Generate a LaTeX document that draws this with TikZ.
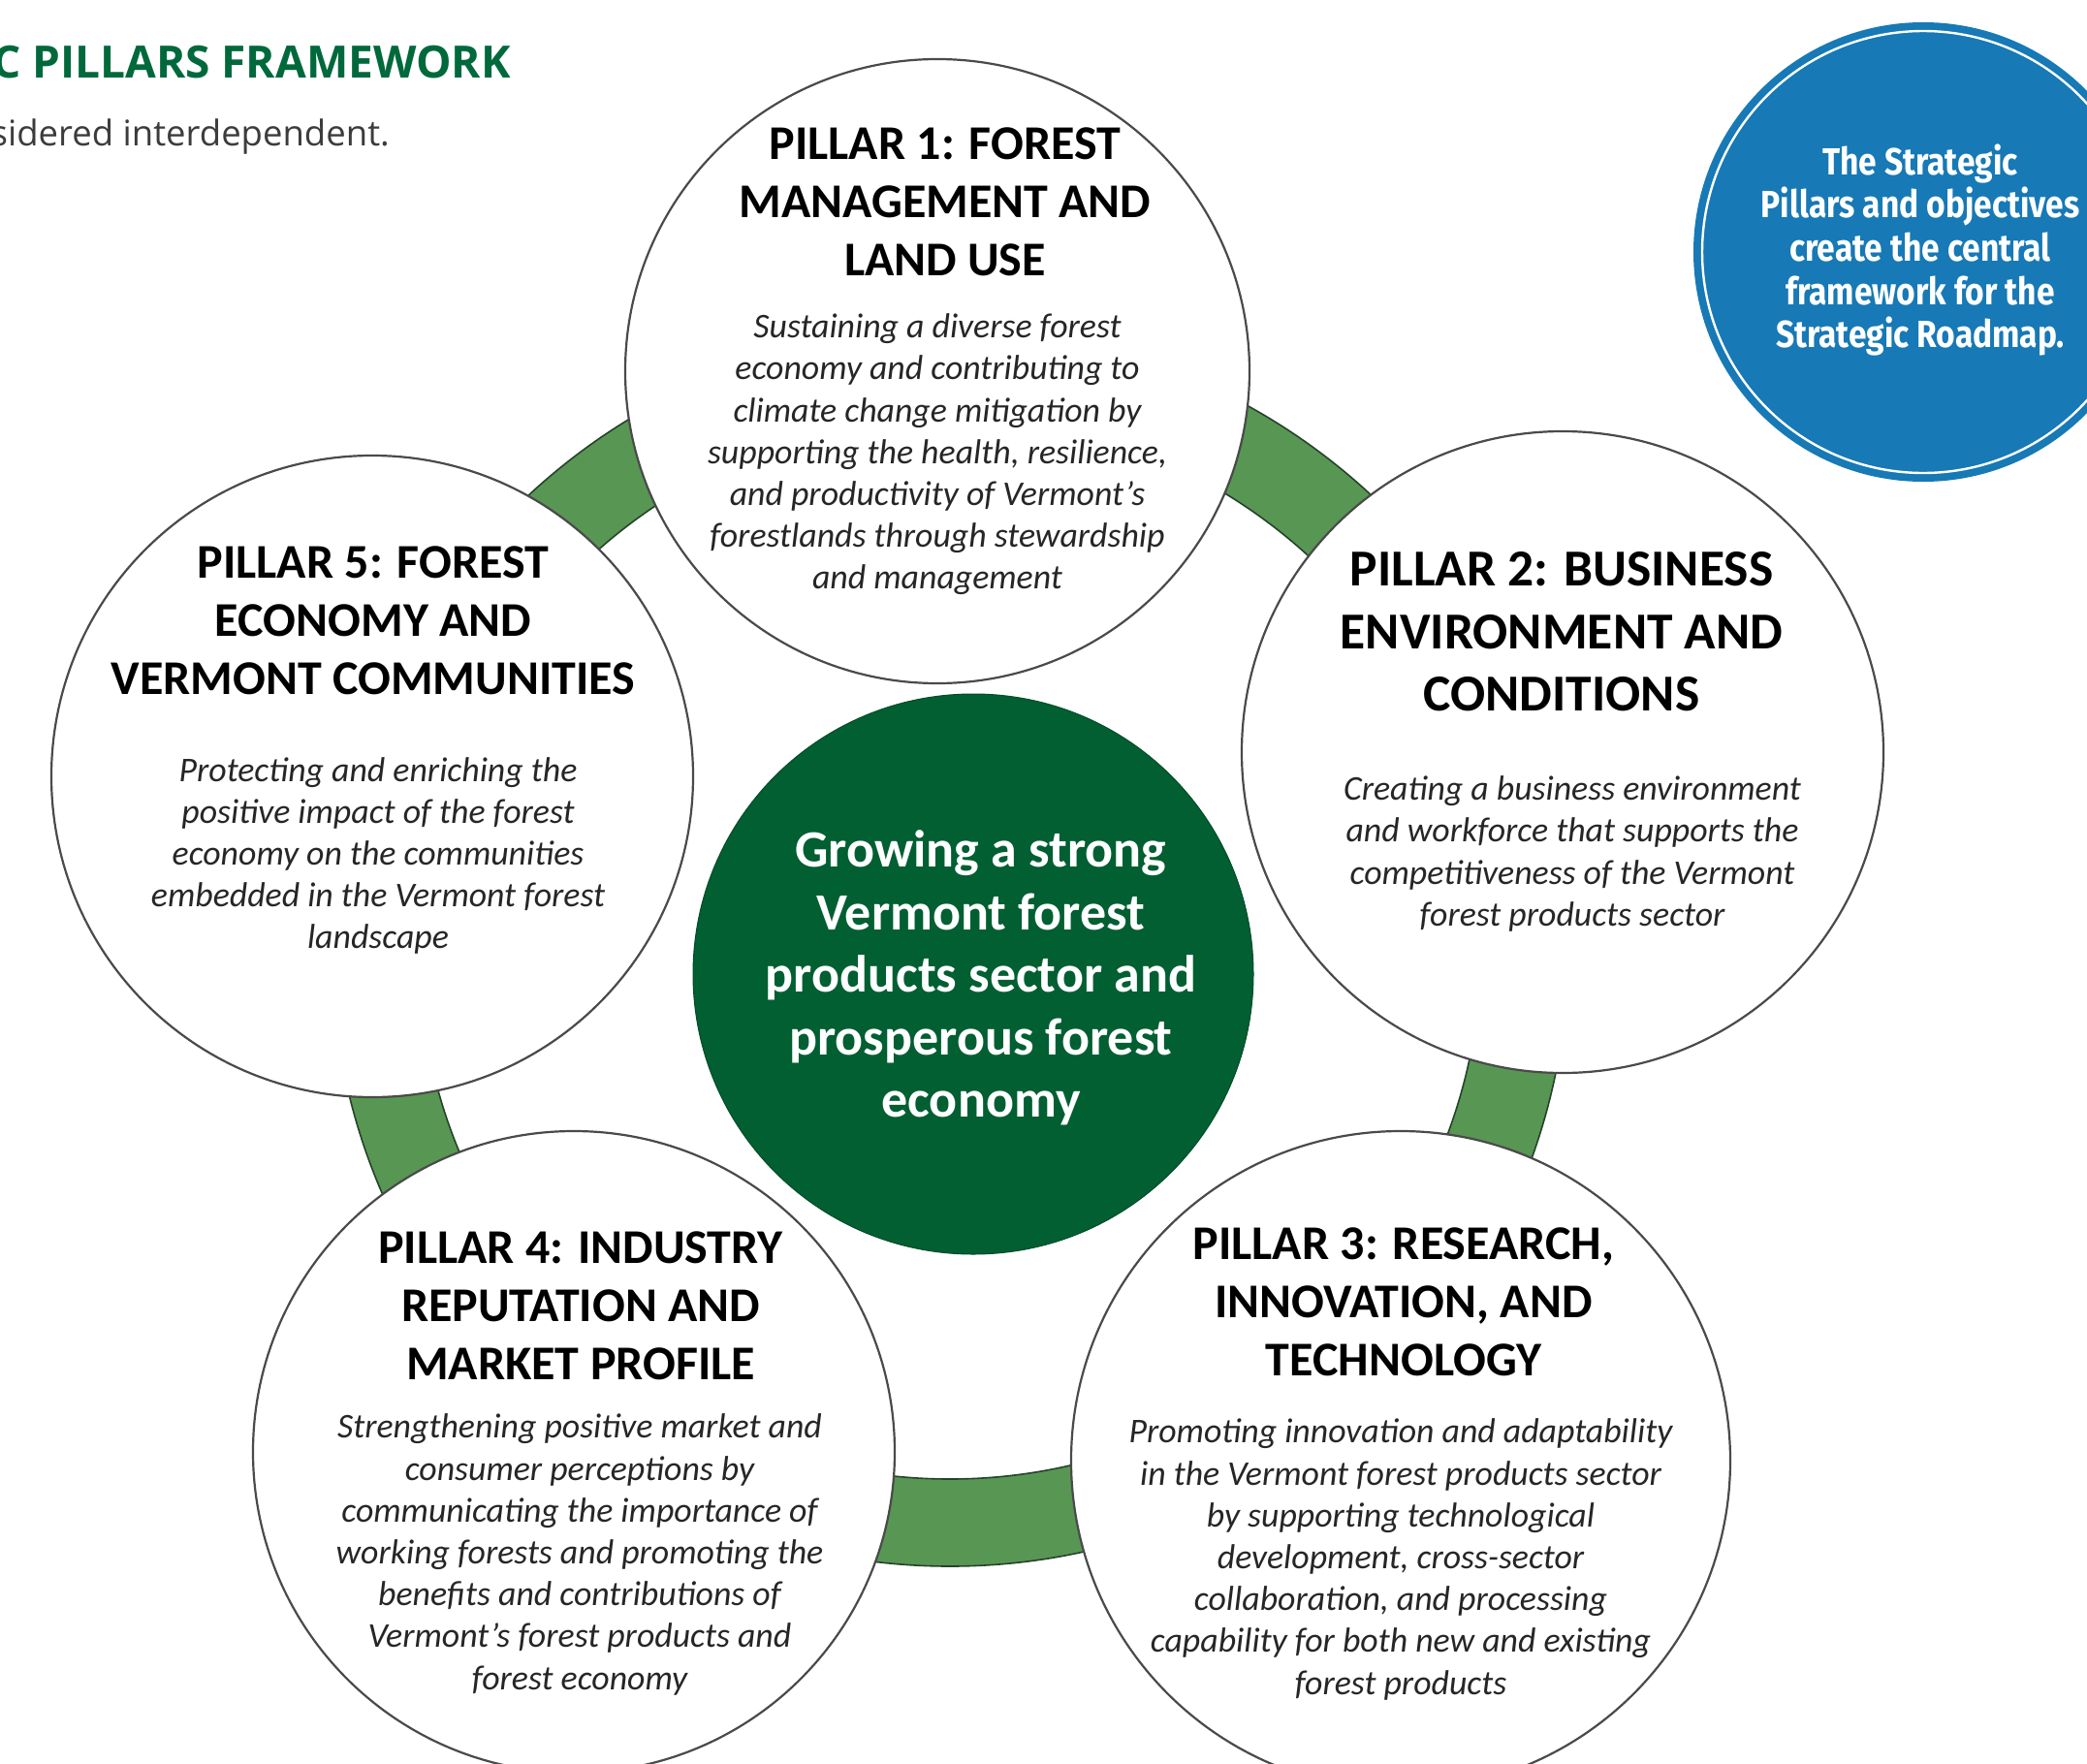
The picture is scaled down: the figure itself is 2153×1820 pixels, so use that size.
\documentclass[tikz,border=0pt]{standalone}
\usepackage{fontspec}
\setmainfont{Carlito}
\newfontfamily\osans{Open Sans}
\newfontfamily\bluefont[FakeStretch=0.86]{Fira Sans}
\definecolor{ringgreen}{HTML}{589654}
\definecolor{ringedge}{HTML}{25432A}
\definecolor{coregreen}{HTML}{015F32}
\definecolor{bluefill}{HTML}{1779B5}
\definecolor{titlegreen}{HTML}{00693C}
\definecolor{subgray}{HTML}{3C3C3C}
\definecolor{descgray}{HTML}{262626}
\definecolor{edgegray}{HTML}{4A4A4A}
\begin{document}
\begin{tikzpicture}[x=1pt,y=-1pt,
  pillar/.style={circle, draw=edgegray, line width=2.2pt, fill=white, inner sep=0pt},
  ptitle/.style={align=center, inner sep=0pt, text=black, font=\bfseries\fontsize{50}{60}\selectfont},
  pdesc/.style={align=center, inner sep=0pt, text=descgray, font=\itshape\fontsize{35.8}{43.2}\selectfont},
  ringband/.style={fill=ringgreen, draw=ringedge, line width=1.6pt, even odd rule}]
\useasboundingbox (0,0) rectangle (2153,1820);
% ring behind the pillars
\coordinate (rc) at (980,978);
\path[ringband] (rc) circle[radius=638pt] (rc) circle[radius=548pt];
% title texts
\node[anchor=base east, inner sep=0pt, text=titlegreen, font=\osans\bfseries\fontsize{46}{55}\selectfont] (ttl) at (527,80) {C PILLARS FRAMEWORK};
\node[anchor=base east, inner sep=0pt, text=subgray, font=\osans\fontsize{36.5}{42}\selectfont] (sub) at (402,150) {sidered interdependent.};
% blue circle
\node[circle, fill=bluefill, inner sep=0pt, minimum size=474pt] (blue) at (1984,260) {};
\draw[white, line width=2.4pt] (blue.center) circle[radius=228pt];
\node[align=center, inner sep=0pt, text=white, font=\bluefont\bfseries\fontsize{39}{44.7}\selectfont] (bluetxt) at (1981,258) {The Strategic\\Pillars and objectives\\create the central\\framework for the\\Strategic Roadmap.};
% core
\node[circle, fill=coregreen, draw=coregreen!80!black, line width=1pt, inner sep=0pt, minimum size=578pt] (core) at (1004,1005) {};
\node[align=center, inner sep=0pt, text=white, font=\bfseries\fontsize{54}{64.5}\selectfont] (coretxt) at (1012,1009) {Growing a strong\\Vermont forest\\products sector and\\prosperous forest\\economy};
% pillars
\node[pillar, minimum size=644pt] (p1) at (967,383) {};
\node[pillar, minimum size=662pt] (p2) at (1612,776) {};
\node[pillar, minimum size=680pt] (p3) at (1445,1507) {};
\node[pillar, minimum size=662pt] (p4) at (592,1498) {};
\node[pillar, minimum size=662pt] (p5) at (384,801) {};
% pillar 1
\node[ptitle] (p1t) at (975,208) {PILLAR 1: FOREST\\MANAGEMENT AND\\LAND USE};
\node[pdesc] (p1d) at (967,469) {Sustaining a diverse forest\\economy and contributing to\\climate change mitigation by\\supporting the health, resilience,\\and productivity of Vermont’s\\forestlands through stewardship\\and management};
% pillar 2
\node[ptitle, font=\bfseries\fontsize{53.5}{64.5}\selectfont] (p2t) at (1611,652) {PILLAR 2: BUSINESS\\ENVIRONMENT AND\\CONDITIONS};
\node[pdesc] (p2d) at (1622,881) {Creating a business environment\\and workforce that supports the\\competitiveness of the Vermont\\forest products sector};
% pillar 3
\node[ptitle] (p3t) at (1448,1343) {PILLAR 3: RESEARCH,\\INNOVATION, AND\\TECHNOLOGY};
\node[pdesc] (p3d) at (1445,1609) {Promoting innovation and adaptability\\in the Vermont forest products sector\\by supporting technological\\development, cross-sector\\collaboration, and processing\\capability for both new and existing\\forest products};
% pillar 4
\node[ptitle] (p4t) at (599,1347) {PILLAR 4: INDUSTRY\\REPUTATION AND\\MARKET PROFILE};
\node[pdesc] (p4d) at (598,1604) {Strengthening positive market and\\consumer perceptions by\\communicating the importance of\\working forests and promoting the\\benefits and contributions of\\Vermont’s forest products and\\forest economy};
% pillar 5
\node[ptitle] (p5t) at (385,640) {PILLAR 5: FOREST\\ECONOMY AND\\VERMONT COMMUNITIES};
\node[pdesc] (p5d) at (390,883) {Protecting and enriching the\\positive impact of the forest\\economy on the communities\\embedded in the Vermont forest\\landscape};
\end{tikzpicture}
\end{document}
